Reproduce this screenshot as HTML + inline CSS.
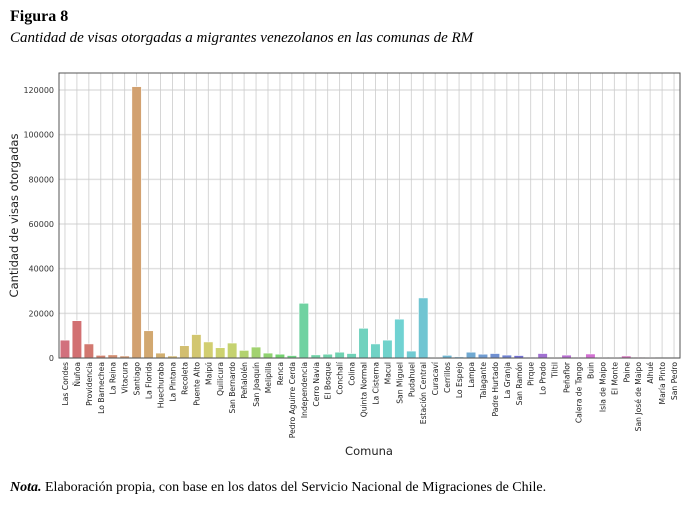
<!DOCTYPE html>
<html><head><meta charset="utf-8"><style>
body{margin:0;background:#fff;width:698px;height:507px;overflow:hidden;position:relative;font-family:"Liberation Serif",serif}
.t{position:absolute;white-space:nowrap}
</style></head><body>
<div class="t" style="left:10px;top:8px;font-weight:bold;font-size:16px">Figura 8</div>
<div class="t" style="left:10px;top:30px;font-style:italic;font-size:15px">Cantidad de visas otorgadas a migrantes venezolanos en las comunas de RM</div>
<svg id="chart" width="698" height="470" style="position:absolute;left:0;top:0" font-family="DejaVu Sans, sans-serif"></svg>
<div class="t" style="left:10px;top:480px;font-size:14px"><b><i>Nota.</i></b> Elaboración propia, con base en los datos del Servicio Nacional de Migraciones de Chile.</div>
<script>
const categories=["Las Condes","Ñuñoa","Providencia","Lo Barnechea","La Reina","Vitacura","Santiago","La Florida","Huechuraba","La Pintana","Recoleta","Puente Alto","Maipú","Quilicura","San Bernardo","Peñalolén","San Joaquín","Melipilla","Renca","Pedro Aguirre Cerda","Independencia","Cerro Navia","El Bosque","Conchalí","Colina","Quinta Normal","La Cisterna","Macul","San Miguel","Pudahuel","Estación Central","Curacaví","Cerrillos","Lo Espejo","Lampa","Talagante","Padre Hurtado","La Granja","San Ramón","Pirque","Lo Prado","Tiltil","Peñaflor","Calera de Tango","Buin","Isla de Maipo","El Monte","Paine","San José de Maipo","Alhué","María Pinto","San Pedro"];
const values=[8000,16700,6300,1200,1400,900,121500,12200,2200,900,5500,10500,7200,4600,6700,3400,4900,2200,1700,1100,24500,1400,1700,2600,2000,13300,6300,8000,17400,3100,26900,300,1200,500,2600,1700,2000,1300,1100,400,2000,300,1300,400,1800,300,300,900,400,300,100,100];
const yTicks=[0,20000,40000,60000,80000,100000,120000];
const svg=document.getElementById('chart');
const NS='http://www.w3.org/2000/svg';
const L=59,R=680,T=73,B=358;
const y=v=>B-(v/120000)*268;
const bw=(R-L)/categories.length;
const x=i=>L+bw*(i+0.5);
const hueStops=[[0,352],[3,12],[6,30],[10,48],[14,68],[17,100],[20,150],[25,168],[30,188],[34,205],[37,228],[40,270],[44,300],[51,335]];
function hueAt(i){for(let k=0;k<hueStops.length-1;k++){const[a,h1]=hueStops[k],[b,h2]=hueStops[k+1];if(i<=b){let d=h2-h1;if(d<-180)d+=360;return (h1+d*(i-a)/(b-a)+360)%360;}}return 335;}
function mk(tag,attrs,parent){const e=document.createElementNS(NS,tag);for(const k in attrs)e.setAttribute(k,attrs[k]);(parent||svg).appendChild(e);return e;}
yTicks.forEach(v=>{
 const g=mk('line',{x1:L,x2:R,y1:y(v),y2:y(v),stroke:'#e0e0e0','stroke-width':1.5});
 
 
 const t=mk('text',{x:L-5,y:y(v)+3,'text-anchor':'end','font-size':8,fill:'#333'});
 t.textContent=v;
 
 
});
categories.forEach((c,i)=>{
 const g=mk('line',{x1:x(i),x2:x(i),y1:T,y2:B,stroke:'#cccccc','stroke-width':0.8});
 
 
});
categories.forEach((c,i)=>{
 const hue=hueAt(i);
 const r=mk('rect',{x:x(i)-bw*0.4,y:y(values[i]),width:bw*0.8,height:B-y(values[i]),fill:`hsl(${hue},52%,63%)`,stroke:'#fff','stroke-width':0.6});
 
 
 const t=mk('text',{x:0,y:0,transform:`translate(${x(i)+3},362) rotate(-90)`,'text-anchor':'end','font-size':7.6,fill:'#222'});
 t.textContent=c;
 
 
});
const f=mk('rect',{x:L,y:T,width:R-L,height:B-T,fill:'none',stroke:'#555','stroke-width':1});


const yl=mk('text',{transform:`translate(18,${(T+B)/2}) rotate(-90)`,'text-anchor':'middle','font-size':11.5,fill:'#222'});
yl.textContent='Cantidad de visas otorgadas';


const xl=mk('text',{x:369,y:455,'text-anchor':'middle','font-size':11.5,fill:'#222'});
xl.textContent='Comuna';


</script>
</body></html>
